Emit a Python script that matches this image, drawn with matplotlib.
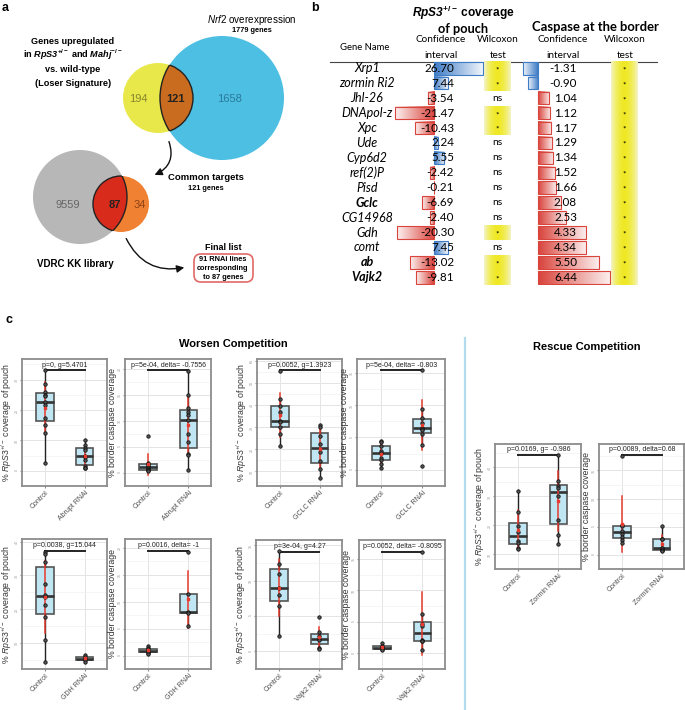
import numpy as np
import matplotlib
matplotlib.use('Agg')
import matplotlib.pyplot as plt
from matplotlib.patches import Circle, Rectangle, FancyArrowPatch, FancyBboxPatch
from matplotlib.colors import LinearSegmentedColormap

plt.rcParams['font.family'] = ['Liberation Sans', 'DejaVu Sans']
plt.rcParams['mathtext.fontset'] = 'custom'
plt.rcParams['mathtext.rm'] = 'Liberation Sans'
plt.rcParams['mathtext.it'] = 'Liberation Sans:italic'
plt.rcParams['mathtext.bf'] = 'Liberation Sans:bold'
plt.rcParams['mathtext.bfit'] = 'Liberation Sans:italic:bold'

W, H = 685, 710

# ---- panel a: venn counts
loser_only, loser_nrf2, nrf2_only = 194, 121, 1658
nrf2_total = 1779
vdrc_only, vdrc_common, common_only = 9559, 87, 34
rnai_lines = 91

# ---- panel b: screen table
genes = ['Xrp1', 'zormin Ri2', 'Jhl-26', 'DNApol-z', 'Xpc', 'Ude', 'Cyp6d2', 'ref(2)P',
         'Pisd', 'Gclc', 'CG14968', 'Gdh', 'comt', 'ab', 'Vajk2']
bold_genes = ['Gclc', 'ab', 'Vajk2']
pouch_ci = [26.70, 7.44, -3.54, -21.47, -10.43, 2.24, 5.55, -2.42, -0.21, -6.69,
            -2.40, -20.30, 7.45, -13.02, -9.81]
pouch_wilcox = ['*', '*', 'ns', '*', '*', 'ns', 'ns', 'ns', 'ns', 'ns', 'ns', '*', 'ns', '*', '*']
casp_ci = [-1.31, -0.90, 1.04, 1.12, 1.17, 1.29, 1.34, 1.52, 1.66, 2.08, 2.53, 4.33,
           4.34, 5.50, 6.44]
casp_wilcox = ['*'] * 15

# ---- panel c: per-disc measurements (control, RNAi)
abrupt_pouch_ctrl = [33.2, 28.5, 26.0, 25.0, 24.5, 22.5, 21.5, 17.5, 15.0, 12.5, 2.5]
abrupt_pouch_rnai = [10.0, 8.5, 7.5, 7.0, 5.0, 4.5, 3.5, 1.5, 1.0, 1.0]
abrupt_casp_ctrl = [7.2, 2.0, 1.8, 1.5, 1.2, 1.0, 0.8, 0.6, 0.5, 0.4]
abrupt_casp_rnai = [19.5, 15.0, 12.5, 11.8, 11.1, 10.2, 7.4, 6.0, 3.6, 3.4, 0.5]
gclc_pouch_ctrl = [55.4, 42.6, 39.6, 36.6, 32.9, 32.1, 29.8, 26.8, 21.3]
gclc_pouch_rnai = [31.1, 30.2, 26.1, 22.3, 18.6, 14.8, 11.1, 7.0]
gclc_casp_ctrl = [4.48, 4.25, 3.68, 2.97, 2.64, 1.79, 1.56, 0.85, 0.28]
gclc_casp_rnai = [15.4, 9.43, 8.0, 7.2, 6.5, 6.37, 6.2, 5.47, 3.9, 0.6]
zormin_pouch_ctrl = [31.7, 24.5, 19.8, 17.8, 14.7, 14.1, 12.1, 11.8]
zormin_pouch_rnai = [44.1, 35.3, 33.5, 32.8, 30.2, 21.9, 16.7, 13.6]
zormin_casp_ctrl = [17.6, 5.3, 5.1, 4.2, 3.8, 3.1, 2.6, 2.1]
zormin_casp_rnai = [5.1, 2.9, 2.74, 1.3, 1.24, 0.9, 0.86, 0.7]
gdh_pouch_ctrl = [37.0, 36.2, 34.1, 27.4, 24.2, 23.5, 21.2, 17.5, 10.8, 4.4]
gdh_pouch_rnai = [6.3, 5.8, 5.3, 4.85, 4.4]
gdh_casp_ctrl = [1.74, 1.4, 1.16, 0.9, 0.7, 0.5, 0.29]
gdh_casp_rnai = [19.2, 11.4, 8.1, 7.8, 5.5]
vajk2_pouch_ctrl = [14.2, 12.4, 10.9, 9.0, 7.9, 6.35, 2.15]
vajk2_pouch_rnai = [4.8, 2.7, 2.15, 1.8, 1.6, 0.5, 0.34]
vajk2_casp_ctrl = [1.6, 1.2, 1.0, 0.8, 0.66, 0.5]
vajk2_casp_rnai = [16.1, 6.2, 4.6, 4.4, 2.1, 2.0, 1.9, 0.5]

fig = plt.figure(figsize=(W / 100, H / 100), dpi=100)
ax0 = fig.add_axes([0, 0, 1, 1])
ax0.set_xlim(0, W)
ax0.set_ylim(H, 0)
ax0.axis('off')


def add_ax(x0, y0, x1, y1):
    return fig.add_axes([x0 / W, 1 - y1 / H, (x1 - x0) / W, (y1 - y0) / H])


# ================= panel a =================
def venn2(c1, r1, c2, r2, col1, col2, colx):
    ax0.add_patch(Circle(c2, r2, fc=col2, ec='none'))
    ax0.add_patch(Circle(c1, r1, fc=col1, ec='none'))
    lens = Circle(c2, r2, fc=colx, ec='#222222', lw=1.0)
    ax0.add_patch(lens)
    lens.set_clip_path(Circle(c1, r1, transform=ax0.transData))
    edge = Circle(c1, r1, fc='none', ec='#222222', lw=1.0)
    ax0.add_patch(edge)
    edge.set_clip_path(Circle(c2, r2, transform=ax0.transData))


venn2((158, 98), 35, (222, 98), 62, '#e9e84b', '#4dbfe2', '#c96c1f')
venn2((80, 197), 47, (121, 204), 28, '#b7b7b7', '#f08133', '#d92b1c')

ax0.text(138, 99, str(loser_only), fontsize=8, color='#85852f', ha='center', va='center')
ax0.text(176, 99, str(loser_nrf2), fontsize=8, fontweight='bold', color='#222222', ha='center', va='center')
ax0.text(230, 99, str(nrf2_only), fontsize=8, color='#2b7a9c', ha='center', va='center')
ax0.text(68, 205, str(vdrc_only), fontsize=8, color='#666666', ha='center', va='center')
ax0.text(115, 205, str(vdrc_common), fontsize=8, fontweight='bold', color='#222222', ha='center', va='center')
ax0.text(140, 205, str(common_only), fontsize=8, color='#8e4215', ha='center', va='center')

ax0.text(73, 41, 'Genes upregulated', fontsize=6.6, fontweight='bold', ha='center', va='center')
ax0.text(73, 55, r'in $\mathbfit{RpS3}^{\mathbf{+/-}}$ and $\mathbfit{Mahj}^{\mathbf{-/-}}$',
         fontsize=6.6, fontweight='bold', ha='center', va='center')
ax0.text(73, 70, 'vs. wild-type', fontsize=6.6, fontweight='bold', ha='center', va='center')
ax0.text(73, 83, '(Loser Signature)', fontsize=6.6, fontweight='bold', ha='center', va='center')
ax0.text(252, 20, r'$\mathit{Nrf2}$ overexpression', fontsize=7.1, ha='center', va='center')
ax0.text(252, 31, '%d genes' % nrf2_total, fontsize=5.3, fontweight='bold', ha='center', va='center')
ax0.text(206, 177, 'Common targets', fontsize=6.8, fontweight='bold', ha='center', va='center')
ax0.text(206, 188, '%d genes' % loser_nrf2, fontsize=5.3, fontweight='bold', ha='center', va='center')
ax0.text(75, 264, 'VDRC KK library', fontsize=7.0, fontweight='bold', ha='center', va='center')
ax0.text(223, 247, 'Final list', fontsize=6.5, fontweight='bold', ha='center', va='center')
ax0.add_patch(FancyBboxPatch((194, 254), 59, 28, boxstyle='round,pad=0,rounding_size=7',
                             fc='white', ec='#e06a66', lw=1.2))
ax0.text(223, 259.5, '%d RNAi lines' % rnai_lines, fontsize=5.3, fontweight='bold', ha='center', va='center')
ax0.text(223, 268.5, 'corresponding', fontsize=5.3, fontweight='bold', ha='center', va='center')
ax0.text(223, 277.5, 'to %d genes' % vdrc_common, fontsize=5.3, fontweight='bold', ha='center', va='center')

ax0.add_patch(FancyArrowPatch((168, 139), (152, 176), connectionstyle='arc3,rad=-0.5',
                              arrowstyle='-|>', mutation_scale=11, color='#111111', lw=1.0))
ax0.add_patch(FancyArrowPatch((125, 236), (187, 267), connectionstyle='arc3,rad=0.4',
                              arrowstyle='-|>', mutation_scale=11, color='#111111', lw=1.0))

ax0.text(2, 8, 'a', fontsize=9, fontweight='bold', va='center')
ax0.text(311, 8, 'b', fontsize=9, fontweight='bold', va='center')
ax0.text(6, 320, 'c', fontsize=9, fontweight='bold', va='center')

# ================= panel b =================
tfont = ['Lato', 'DejaVu Sans']
ax0.text(463, 13, r'$\mathbfit{RpS3}^{\mathbf{+/-}}$ coverage', fontsize=8.6, fontweight='bold',
         ha='center', va='center')
ax0.text(463, 29, 'of pouch', fontsize=9.2, fontweight='bold', family=tfont, ha='center', va='center')
ax0.text(595, 27, 'Caspase at the border', fontsize=9.4, fontweight='bold', family=tfont,
         ha='center', va='center')
ax0.text(365, 47, 'Gene Name', fontsize=6.8, family=tfont, ha='center', va='center')
for cx, l1, l2 in [(441, 'Confidence', 'interval'), (498, 'Wilcoxon', 'test'),
                   (563, 'Confidence', 'interval'), (625, 'Wilcoxon', 'test')]:
    ax0.text(cx, 40, l1, fontsize=7.2, family=tfont, ha='center', va='center')
    ax0.text(cx, 55, l2, fontsize=7.2, family=tfont, ha='center', va='center')
ax0.plot([330, 657], [61.5, 61.5], color='#444444', lw=0.8)

rows = np.arange(len(genes))
ax_pb = add_ax(391.9, 60.8, 485.2, 284.8)
ax_cb = add_ax(520.9, 60.8, 611.6, 284.8)
ax_t = add_ax(330, 60.8, 685, 284.8)


def grad_bar(ax, i, v, color):
    cmap = LinearSegmentedColormap.from_list('g', ['white', color])
    grad = np.linspace(1, 0.08, 64).reshape(1, -1)
    ax.imshow(grad, cmap=cmap, vmin=0, vmax=1, extent=[0, v, i + 0.42, i - 0.42],
              aspect='auto', interpolation='bilinear')
    ax.add_patch(Rectangle((min(0, v), i - 0.42), abs(v), 0.84, fc='none', ec=color, lw=0.8))


for i, v in enumerate(pouch_ci):
    grad_bar(ax_pb, i, v, '#3f7cc6' if v > 0 else '#d9443c')
for i, v in enumerate(casp_ci):
    grad_bar(ax_cb, i, v, '#3f7cc6' if v < 0 else '#d9443c')
for ax, lim in [(ax_pb, (-23, 28)), (ax_cb, (-1.5, 6.6))]:
    ax.set_xlim(*lim)
    ax.set_ylim(14.5, -0.5)
    ax.axis('off')

ycmap = LinearSegmentedColormap.from_list('y', ['#efe824', '#f1ee6a', '#f4f3c6'])
yprof = (np.abs(np.linspace(-1, 1, 64)) ** 1.6).reshape(1, -1)
for i in rows:
    if pouch_wilcox[i] == '*':
        ax_t.imshow(yprof, cmap=ycmap, vmin=0, vmax=1, extent=[484, 511, i + 0.5, i - 0.5],
                    aspect='auto', interpolation='bilinear')
    if casp_wilcox[i] == '*':
        ax_t.imshow(yprof, cmap=ycmap, vmin=0, vmax=1, extent=[611, 638, i + 0.5, i - 0.5],
                    aspect='auto', interpolation='bilinear')
ax_t.set_xlim(330, 685)
ax_t.set_ylim(14.5, -0.5)
ax_t.axis('off')
ax_t.patch.set_alpha(0)

for i, g in enumerate(genes):
    ax_t.text(367, i, g, fontsize=9, family=tfont, style='italic',
              fontweight='bold' if g in bold_genes else 'normal', ha='center', va='center')
    ax_t.text(454, i, '%.2f' % pouch_ci[i], fontsize=8.4, family=tfont, ha='right', va='center')
    ax_t.text(577, i, '%.2f' % casp_ci[i], fontsize=8.4, family=tfont, ha='right', va='center')
    for cx, w in [(497.5, pouch_wilcox[i]), (624.5, casp_wilcox[i])]:
        if w == '*':
            ax_t.text(cx, i + 0.1, '*', fontsize=6, family=tfont, ha='center', va='center')
        else:
            ax_t.text(cx, i, w, fontsize=7.4, family=tfont, ha='center', va='center')

# ================= panel c =================
pouch_label = r'% $\mathit{RpS3}^{+/-}$ coverage of pouch'
casp_label = '% border caspase coverage'


def box_panel(box, ctrl, rnai, rnai_name, ylabel, stat, ylim, yticks):
    ax = add_ax(*box)
    data = [ctrl, rnai]
    ax.boxplot(data, positions=[1, 2], widths=0.44, patch_artist=True, showfliers=False,
               boxprops=dict(facecolor='#bfe6f2', edgecolor='#555555', linewidth=1.2),
               medianprops=dict(color='#333333', linewidth=1.9),
               whiskerprops=dict(color='#222222', linewidth=1.0),
               capprops=dict(linewidth=0))
    for k, vals in enumerate(data):
        x = k + 1
        m = np.mean(vals)
        s = np.std(vals, ddof=1)
        ax.plot([x, x], [m - s, m + s], color='#e63b2e', lw=1.1, zorder=4)
        ax.scatter(np.full(len(vals), x), vals, s=6, facecolor='#555555', edgecolor='#111111',
                   lw=0.6, zorder=5)
        ax.scatter([x], [m], s=4, color='#e63b2e', marker='s', zorder=6)
    ax.set_xlim(0.42, 2.56)
    ax.set_ylim(*ylim)
    step = yticks[1] - yticks[0]
    ax.set_yticks(yticks)
    ax.set_yticks(np.arange(yticks[0] - step / 2, ylim[1], step), minor=True)
    ax.set_yticklabels([str(t) for t in yticks])
    ax.set_xticks([1, 2])
    ax.set_xticklabels(['Control', rnai_name], rotation=45, ha='right', rotation_mode='anchor',
                       fontsize=5, color='#4d4d4d')
    ax.grid(True, which='major', color='#e4e4e4', lw=0.7)
    ax.grid(True, which='minor', axis='y', color='#f1f1f1', lw=0.5)
    ax.set_axisbelow(True)
    ax.tick_params(axis='y', labelsize=2.6, labelcolor='#999999', length=1.5, color='#888888',
                   pad=0.5, labelrotation=90)
    ax.tick_params(axis='y', which='minor', length=0)
    ax.tick_params(axis='x', length=1.5, color='#888888', pad=1)
    for sp in ax.spines.values():
        sp.set_color('#8c8c8c')
        sp.set_linewidth(1.3)
    ax.set_ylabel(ylabel, fontsize=6.3, color='#333333', labelpad=1)
    tr = ax.get_xaxis_transform()
    ax.plot([1, 2], [0.91, 0.91], color='#222222', lw=1.4, transform=tr, clip_on=False)
    ax.text(1.5, 0.925, stat, fontsize=5, color='#222222', ha='center', va='bottom', transform=tr)
    return ax


box_panel((22, 359, 107, 486), abrupt_pouch_ctrl, abrupt_pouch_rnai, 'Abrupt RNAi', pouch_label,
          'p=0, g=5.4701', (-1.0, 36.8), [0, 10, 20, 30])
box_panel((125, 359, 211, 486), abrupt_casp_ctrl, abrupt_casp_rnai, 'Abrupt RNAi', casp_label,
          'p=5e-04, delta= -0.7556', (-0.9, 21.9), [0, 5, 10, 15, 20])
box_panel((257, 359, 342, 486), gclc_pouch_ctrl, gclc_pouch_rnai, 'GCLC RNAi', pouch_label,
          'p=0.0052, g=1.3923', (3.4, 60.7), [10, 20, 30, 40, 50, 60])
box_panel((357, 359, 445, 486), gclc_casp_ctrl, gclc_casp_rnai, 'GCLC RNAi', casp_label,
          'p=5e-04, delta= -0.803', (-0.85, 17.1), [0, 5, 10, 15])
box_panel((495, 444, 581, 569), zormin_pouch_ctrl, zormin_pouch_rnai, 'Zormin RNAi', pouch_label,
          'p=0.0169, g= -0.986', (9.3, 48.0), [10, 20, 30, 40])
box_panel((599, 444, 684, 569), zormin_casp_ctrl, zormin_casp_rnai, 'Zormin RNAi', casp_label,
          'p=0.0089, delta=0.68', (-0.5, 19.7), [0, 5, 10, 15])
box_panel((22, 539, 107, 669), gdh_pouch_ctrl, gdh_pouch_rnai, 'GDH RNAi', pouch_label,
          'p=0.0038, g=15.044', (2.2, 40.8), [10, 20, 30, 40])
box_panel((125, 539, 211, 669), gdh_casp_ctrl, gdh_casp_rnai, 'GDH RNAi', casp_label,
          'p=0.0016, delta= -1', (-1.0, 21.6), [0, 5, 10, 15, 20])
box_panel((256, 540, 342, 669), vajk2_pouch_ctrl, vajk2_pouch_rnai, 'Vajk2 RNAi', pouch_label,
          'p=3e-04, g=4.27', (-0.73, 15.75), [0, 5, 10, 15])
box_panel((359, 540, 445, 669), vajk2_casp_ctrl, vajk2_casp_rnai, 'Vajk2 RNAi', casp_label,
          'p=0.0052, delta= -0.8095', (-1.3, 18.0), [0, 5, 10, 15])

ax0.text(233, 344, 'Worsen Competition', fontsize=8, fontweight='bold', ha='center', va='center')
ax0.text(587, 347, 'Rescue Competition', fontsize=8, fontweight='bold', ha='center', va='center')
ax0.plot([465, 465], [338, 710], color='#b3dcef', lw=1.6)

fig.savefig('out.png', dpi=100)
